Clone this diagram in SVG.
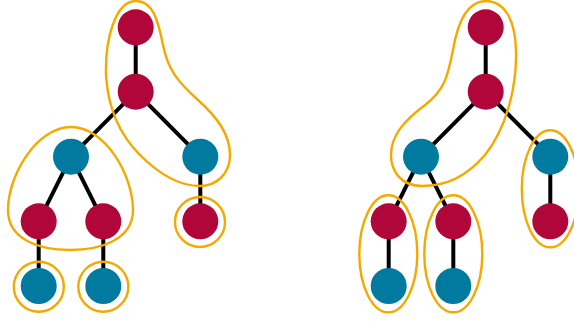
<svg xmlns="http://www.w3.org/2000/svg" width="574" height="325" viewBox="0 0 574 325">
<style>
.e{stroke:#000;stroke-width:4;fill:none}
.r{fill:#B0063A}
.b{fill:#007A9E}
.g{fill:none;stroke:#F4A900;stroke-width:2.4}
</style>
<rect width="574" height="325" fill="#fff"/>
<g id="connectors">
<line class="e" x1="135.7" y1="27.3" x2="135.7" y2="91.7"/>
<line class="e" x1="135.7" y1="91.7" x2="71" y2="156.7"/>
<line class="e" x1="135.7" y1="91.7" x2="200.3" y2="156.7"/>
<line class="e" x1="71" y1="156.7" x2="38.7" y2="221.3"/>
<line class="e" x1="71" y1="156.7" x2="103.3" y2="221.3"/>
<line class="e" x1="200.3" y1="156.7" x2="200.3" y2="221.3"/>
<line class="e" x1="38.7" y1="221.3" x2="38.7" y2="286"/>
<line class="e" x1="103.3" y1="221.3" x2="103.3" y2="286"/>
<line class="e" x1="485.7" y1="27.3" x2="485.7" y2="91.7"/>
<line class="e" x1="485.7" y1="91.7" x2="421" y2="156.7"/>
<line class="e" x1="485.7" y1="91.7" x2="550.3" y2="156.7"/>
<line class="e" x1="421" y1="156.7" x2="388.7" y2="221.3"/>
<line class="e" x1="421" y1="156.7" x2="453.3" y2="221.3"/>
<line class="e" x1="550.3" y1="156.7" x2="550.3" y2="221.3"/>
<line class="e" x1="388.7" y1="221.3" x2="388.7" y2="286"/>
<line class="e" x1="453.3" y1="221.3" x2="453.3" y2="286"/>
</g>
<g id="left-tree">
<circle id="l-a" class="r" cx="135.7" cy="27.3" r="18"/>
<circle id="l-b" class="r" cx="135.7" cy="91.7" r="18"/>
<circle id="l-c" class="b" cx="71" cy="156.7" r="18"/>
<circle id="l-d" class="b" cx="200.3" cy="156.7" r="18"/>
<circle id="l-e" class="r" cx="38.7" cy="221.3" r="18"/>
<circle id="l-f" class="r" cx="103.3" cy="221.3" r="18"/>
<circle id="l-g" class="r" cx="200.3" cy="221.3" r="18"/>
<circle id="l-h" class="b" cx="38.7" cy="286" r="18"/>
<circle id="l-i" class="b" cx="103.3" cy="286" r="18"/>
</g>
<g id="right-tree">
<circle id="r-a" class="r" cx="485.7" cy="27.3" r="18"/>
<circle id="r-b" class="r" cx="485.7" cy="91.7" r="18"/>
<circle id="r-c" class="b" cx="421" cy="156.7" r="18"/>
<circle id="r-d" class="b" cx="550.3" cy="156.7" r="18"/>
<circle id="r-e" class="r" cx="388.7" cy="221.3" r="18"/>
<circle id="r-f" class="r" cx="453.3" cy="221.3" r="18"/>
<circle id="r-g" class="r" cx="550.3" cy="221.3" r="18"/>
<circle id="r-h" class="b" cx="388.7" cy="286" r="18"/>
<circle id="r-i" class="b" cx="453.3" cy="286" r="18"/>
</g>
<g id="left-groups">
<path class="g" d="M136,1 C153,1 158,20 163,45 C168,70 178,82 198,100 C218,118 230,135 230,155 C230,175 215,186 200,186 C180,186 160,175 140,155 C120,135 108,110 106,75 C105,40 115,1 136,1 Z"/>
<path class="g" d="M71,127 C105,127 133,175 133,210 C133,240 100,250 70,250 C40,250 8,240 8,210 C8,175 37,127 71,127 Z"/>
<circle class="g" cx="200" cy="222" r="25"/>
<circle class="g" cx="38.8" cy="286.7" r="25"/>
<circle class="g" cx="103.3" cy="286.7" r="25"/>
</g>
<g id="right-groups">
<path class="g" d="M486,1 C505,1 515,20 516,50 C517,90 505,130 485,155 C465,178 445,186 422,186 C400,186 391,170 391,155 C391,135 405,120 425,105 C445,90 448,75 453,50 C458,20 468,1 486,1 Z"/>
<ellipse class="g" cx="388.3" cy="253.8" rx="29" ry="58.5"/>
<ellipse class="g" cx="453.3" cy="253.8" rx="29" ry="58.5"/>
<ellipse class="g" cx="550.3" cy="188.8" rx="28.5" ry="58.5"/>
</g>
</svg>
